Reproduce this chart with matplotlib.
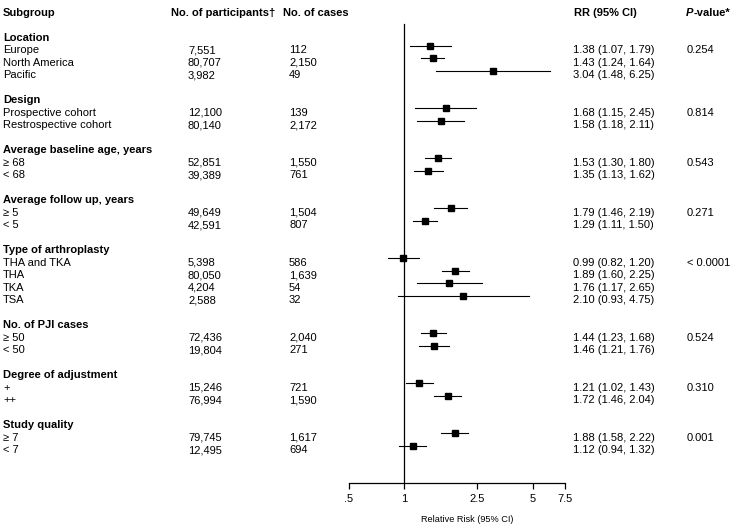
import matplotlib
matplotlib.use("Agg")
import matplotlib.pyplot as plt
import matplotlib.transforms as mtransforms

plt.rcParams['font.family'] = ['Liberation Sans', 'DejaVu Sans']

# data
groups = ["Location", "Design", "Average baseline age, years", "Average follow up, years",
          "Type of arthroplasty", "No. of PJI cases", "Degree of adjustment", "Study quality"]
group_sizes = [3, 2, 2, 2, 4, 2, 2, 2]
labels = ["Europe", "North America", "Pacific",
          "Prospective cohort", "Restrospective cohort",
          "≥ 68", "< 68",
          "≥ 5", "< 5",
          "THA and TKA", "THA", "TKA", "TSA",
          "≥ 50", "< 50",
          "+", "++",
          "≥ 7", "< 7"]
participants = [7551, 80707, 3982, 12100, 80140, 52851, 39389, 49649, 42591,
                5398, 80050, 4204, 2588, 72436, 19804, 15246, 76994, 79745, 12495]
cases = [112, 2150, 49, 139, 2172, 1550, 761, 1504, 807,
         586, 1639, 54, 32, 2040, 271, 721, 1590, 1617, 694]
rr = [1.38, 1.43, 3.04, 1.68, 1.58, 1.53, 1.35, 1.79, 1.29,
      0.99, 1.89, 1.76, 2.10, 1.44, 1.46, 1.21, 1.72, 1.88, 1.12]
lo = [1.07, 1.24, 1.48, 1.15, 1.18, 1.30, 1.13, 1.46, 1.11,
      0.82, 1.60, 1.17, 0.93, 1.23, 1.21, 1.02, 1.46, 1.58, 0.94]
hi = [1.79, 1.64, 6.25, 2.45, 2.11, 1.80, 1.62, 2.19, 1.50,
      1.20, 2.25, 2.65, 4.75, 1.68, 1.76, 1.43, 2.04, 2.22, 1.32]
pvals = ["0.254", "0.814", "0.543", "0.271", "< 0.0001", "0.524", "0.310", "0.001"]
xticks = [0.5, 1, 2.5, 5, 7.5]
xticklabels = [".5", "1", "2.5", "5", "7.5"]

W, H = 733, 527
fig = plt.figure(figsize=(W / 100, H / 100), dpi=100)

# forest panel: x .5 -> 7.5 spans pixels 349..565, axis line at y=483
row_px = 12.5
y0_px = 45.7
ax_bottom_px = 483
ylo = (ax_bottom_px - y0_px) / row_px
yhi = -y0_px / row_px
ax = fig.add_axes([349 / W, (H - ax_bottom_px) / H, (565 - 349) / W, ax_bottom_px / H])
ax.set_xscale("log")
ax.set_xlim(0.5, 7.5)
ax.set_ylim(ylo, yhi)
for s in ["top", "right", "left"]:
    ax.spines[s].set_visible(False)
ax.spines["bottom"].set_linewidth(0.9)
ax.set_yticks([])
ax.set_xticks(xticks)
ax.set_xticklabels(xticklabels, fontsize=8)
ax.minorticks_off()
ax.tick_params(axis="x", direction="out", length=4, width=0.9, pad=4)

# row positions
ys = []
group_rows = []
r = 0
for g, n in zip(groups, group_sizes):
    group_rows.append(r - 1)
    ys.extend(range(r, r + n))
    r += n + 2

ax.plot([1, 1], [(24 - y0_px) / row_px, ylo], color="black", lw=0.9, clip_on=False)
for y, m, a, b in zip(ys, rr, lo, hi):
    ax.plot([a, b], [y, y], color="black", lw=0.8, clip_on=False)
    ax.plot(m, y, marker="s", ms=5, color="black", clip_on=False)

# text table (baseline a bit below the marker row)
tr = mtransforms.blended_transform_factory(fig.transFigure, ax.transData)
off = 0.6
fs = 8
hdr_y = -3 + off
kw = dict(transform=tr, fontsize=fs, va="baseline")
ax.text(3 / W, hdr_y, "Subgroup", fontweight="bold", **kw)
ax.text(171 / W, hdr_y, "No. of participants†", fontweight="bold", **kw)
ax.text(283 / W, hdr_y, "No. of cases", fontweight="bold", **kw)
ax.text(574 / W, hdr_y, "RR (95% CI)", fontweight="bold", **kw)
pt = ax.text(686 / W, hdr_y, "P", fontweight="bold", style="italic", **kw)
ax.annotate("-value*", xy=(1, 0), xycoords=pt, fontsize=fs, fontweight="bold", va="bottom")

for g, gy in zip(groups, group_rows):
    ax.text(3 / W, gy + off, g, fontweight="bold", **kw)

for i, y in enumerate(ys):
    ax.text(3 / W, y + off, labels[i], **kw)
    ax.text(188 / W, y + off, f"{participants[i]:,}", **kw)
    ax.text(289 / W, y + off, f"{cases[i]:,}", **kw)
    ax.text(573 / W, y + off, f"{rr[i]:.2f} ({lo[i]:.2f}, {hi[i]:.2f})", **kw)

for p, gy in zip(pvals, group_rows):
    ax.text(687 / W, gy + 1 + off, p, **kw)

fig.text(467 / W, 1 - 520 / H, "Relative Risk (95% CI)", fontsize=6.6, ha="center", va="center")

fig.savefig("out.png", dpi=100)
